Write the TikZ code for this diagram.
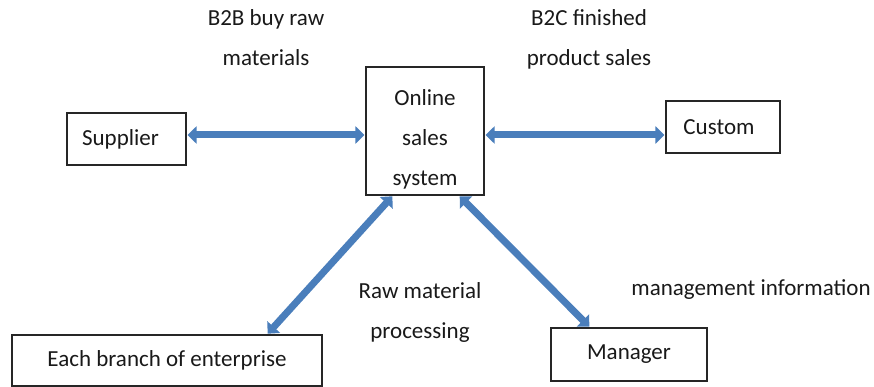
\documentclass[tikz,border=0pt]{standalone}
\usepackage{fontspec}
\setmainfont{Carlito}
\usetikzlibrary{arrows.meta,positioning}
\definecolor{azulFlecha}{RGB}{74,126,187}

\begin{document}
\begin{tikzpicture}[
  x=1pt, y=-1pt,
  every node/.style = {align=center, font=\fontsize{23}{40}\selectfont, text=black!90},
  box/.style  = {rectangle, draw=black!85, line width=1.1pt, inner sep=0pt},
  arr/.style  = {{Triangle[width=17pt,length=9pt]}-{Triangle[width=17pt,length=9pt]},
                 line width=7pt, color=azulFlecha, shorten <=1pt, shorten >=1pt},
]
\useasboundingbox (0,0) rectangle (874,387);
% ── Nodes ────────────────────────────────────────────────────
\node[box, minimum width=119pt, minimum height=52pt]  (sup)  at (126.5,139) {Supplier\hspace{12pt}};
\node[box, minimum width=118pt, minimum height=128pt] (oss)  at (425,131)   {\rule{0pt}{32pt}Online\\sales\\system};
\node[box, minimum width=114pt, minimum height=52pt]  (cus)  at (723,127)   {Custom\hspace{8pt}};
\node[box, minimum width=310pt, minimum height=51pt]  (bra)  at (167,360.5) {Each branch of enterprise};
\node[box, minimum width=156pt, minimum height=53pt]  (man)  at (629,354.5) {Manager};

% ── Labels ───────────────────────────────────────────────────
\node (lb2b) at (266,38)  {B2B buy raw\\materials};
\node (lb2c) at (589,39)  {B2C finished\\product sales};
\node (lraw) at (420,312) {Raw material\\processing};
\node (lman) at (751,290) {management information};

% ── Arrows ───────────────────────────────────────────────────
\draw[arr] ([yshift=4pt]sup.east)    -- ([yshift=-4pt]oss.west);
\draw[arr] ([yshift=-4pt]oss.east)   -- ([yshift=-8pt]cus.west);
\draw[arr] ([xshift=100pt]bra.north) -- ([xshift=-32pt]oss.south);
\draw[arr] ([xshift=34pt]oss.south)  -- ([xshift=-39pt]man.north);

\end{tikzpicture}
\end{document}
